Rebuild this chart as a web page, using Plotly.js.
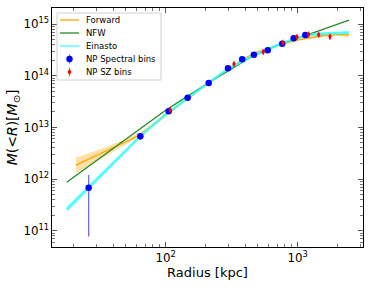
<!DOCTYPE html>
<html>
<head>
<meta charset="utf-8">
<script src="https://cdn.plot.ly/plotly-3.0.1.min.js"></script>
<style>html,body{margin:0;padding:0;background:#fff;}#chart{width:374px;height:288px;}</style>
</head>
<body>
<div id="chart"></div>
<script>
// Forward model (median + band)
const fwd_r = [20.9, 31.6, 53.7, 64.3, 100, 146.9, 211.8, 295, 461, 603, 760, 1000, 1500, 1995, 2450];
const fwd_m = [1.86e12, 3.02e12, 5.75e12, 7.24e12, 1.74e13, 3.63e13, 7.24e13, 1.35e14, 2.69e14, 3.39e14, 4.07e14, 4.90e14, 5.89e14, 6.31e14, 6.17e14];
const fwd_lo = [1.29e12, 2.40e12, 5.13e12, 6.61e12, 1.62e13, 3.47e13, 6.92e13, 1.29e14, 2.57e14, 3.24e14, 3.89e14, 4.68e14, 5.56e14, 5.89e14, 5.62e14];
const fwd_hi = [2.57e12, 3.72e12, 6.46e12, 7.94e12, 1.86e13, 3.80e13, 7.59e13, 1.41e14, 2.82e14, 3.55e14, 4.27e14, 5.13e14, 6.24e14, 6.76e14, 6.76e14];

// NFW
const nfw_r = [17.8, 44, 78.8, 100, 212, 316, 435, 760, 1170, 2450];
const nfw_m = [8.63e11, 4.71e12, 1.38e13, 2.14e13, 7.33e13, 1.36e14, 2.24e14, 4.24e14, 6.12e14, 1.19e15];

// Einasto (median + band)
const ein_r = [17.8, 26.1, 64.3, 100, 146.9, 211.8, 295, 461, 760, 1135, 1500, 2450];
const ein_m = [2.59e11, 6.79e11, 6.76e12, 1.78e13, 3.75e13, 7.33e13, 1.35e14, 2.45e14, 4.24e14, 5.96e14, 6.46e14, 6.76e14];
const ein_lo = [2.25e11, 6.05e11, 6.31e12, 1.68e13, 3.58e13, 7.0e13, 1.29e14, 2.34e14, 4.05e14, 5.62e14, 6.03e14, 6.17e14];
const ein_hi = [2.97e11, 7.62e11, 7.24e12, 1.88e13, 3.93e13, 7.67e13, 1.41e14, 2.57e14, 4.44e14, 6.31e14, 6.92e14, 7.41e14];

// NP Spectral bins
const spec_r = [26.1, 64.3, 105.4, 146.8, 211.8, 296.5, 380, 466, 593, 764, 933, 1143];
const spec_m = [6.8e11, 6.7e12, 2.05e13, 3.75e13, 7.2e13, 1.39e14, 2.08e14, 2.55e14, 3.1e14, 4.16e14, 5.28e14, 6.1e14];
const spec_ep = [5.2e11, 1.1e12, 1.5e12, 2.0e12, 3.0e12, 6.0e12, 9.0e12, 1.0e13, 1.2e13, 1.5e13, 2.0e13, 2.5e13];
const spec_em = [6.03e11, 1.0e12, 1.5e12, 2.0e12, 3.0e12, 6.0e12, 9.0e12, 1.0e13, 1.2e13, 1.5e13, 2.0e13, 2.5e13];

// NP SZ bins
const sz_r = [108.4, 329, 548, 774, 989, 1211, 1442, 1758];
const sz_m = [2.17e13, 1.68e14, 2.88e14, 4.32e14, 5.6e14, 6.3e14, 6.2e14, 5.7e14];
const sz_e = [2.0e12, 1.5e13, 2.0e13, 3.0e13, 4.0e13, 5.0e13, 5.0e13, 7.0e13];

// legend labels
const legend_labels = ['Forward', 'NFW', 'Einasto', 'NP Spectral bins', 'NP SZ bins'];

const C_FWD = '#FFA500', C_NFW = '#228B22', C_EIN = 'rgba(60,255,255,0.85)';

const traces = [
  {x: fwd_r, y: fwd_lo, mode: 'lines', line: {width: 0, color: 'rgba(255,165,0,0)'}, showlegend: false, hoverinfo: 'skip'},
  {x: fwd_r, y: fwd_hi, mode: 'lines', line: {width: 0, color: 'rgba(255,165,0,0)'}, fill: 'tonexty', fillcolor: 'rgba(255,165,0,0.35)', showlegend: false, hoverinfo: 'skip'},
  {x: ein_r, y: ein_lo, mode: 'lines', line: {width: 0, color: 'rgba(0,255,255,0)'}, showlegend: false, hoverinfo: 'skip'},
  {x: ein_r, y: ein_hi, mode: 'lines', line: {width: 0, color: 'rgba(0,255,255,0)'}, fill: 'tonexty', fillcolor: 'rgba(0,255,255,0.3)', showlegend: false, hoverinfo: 'skip'},
  {x: fwd_r, y: fwd_m, mode: 'lines', name: legend_labels[0], showlegend: false, line: {color: C_FWD, width: 1.2}},
  {x: nfw_r, y: nfw_m, mode: 'lines', name: legend_labels[1], showlegend: false, line: {color: C_NFW, width: 1.3}},
  {x: ein_r, y: ein_m, mode: 'lines', name: legend_labels[2], showlegend: false, line: {color: C_EIN, width: 2.5}},
  {x: spec_r, y: spec_m, mode: 'markers', name: legend_labels[3], showlegend: false,
   marker: {color: 'blue', size: 6.5, symbol: 'circle'},
   error_y: {type: 'data', symmetric: false, array: spec_ep, arrayminus: spec_em, color: 'rgba(60,60,255,0.75)', thickness: 1.3, width: 0}},
  {x: sz_r, y: sz_m, mode: 'markers', name: legend_labels[4], showlegend: false,
   marker: {color: 'red', size: 5, symbol: 'diamond-tall'},
   error_y: {type: 'data', array: sz_e, color: 'rgba(255,60,60,0.8)', thickness: 1.3, width: 0}}
];

// Manual legend (matplotlib-like), positioned in pixel terms converted to paper coords
const M = {l: 52, r: 11, t: 8, b: 41}, W = 374, H = 288;
const PW = W - M.l - M.r, PH = H - M.t - M.b;
const px = v => (v - M.l) / PW;
const py = v => (H - M.b - v) / PH;

const legRows = [20, 33, 46, 59, 72];
const shapes = [
  {type: 'rect', xref: 'paper', yref: 'paper', x0: px(57), x1: px(161), y0: py(80), y1: py(13),
   fillcolor: 'rgba(255,255,255,0.85)', line: {color: '#d0d0d0', width: 1}, layer: 'above'},
  {type: 'line', xref: 'paper', yref: 'paper', x0: px(60), x1: px(79), y0: py(legRows[0]), y1: py(legRows[0]), line: {color: C_FWD, width: 1.3}},
  {type: 'line', xref: 'paper', yref: 'paper', x0: px(60), x1: px(79), y0: py(legRows[1]), y1: py(legRows[1]), line: {color: C_NFW, width: 1.3}},
  {type: 'line', xref: 'paper', yref: 'paper', x0: px(60), x1: px(79), y0: py(legRows[2]), y1: py(legRows[2]), line: {color: 'rgba(120,255,255,0.9)', width: 2}},
  {type: 'line', xref: 'paper', yref: 'paper', x0: px(69.5), x1: px(69.5), y0: py(legRows[3] + 4.5), y1: py(legRows[3] - 4.5), line: {color: 'rgba(60,60,255,0.75)', width: 1.3}},
  {type: 'circle', xref: 'paper', yref: 'paper', x0: px(66.3), x1: px(72.7), y0: py(legRows[3] + 3.2), y1: py(legRows[3] - 3.2), fillcolor: 'blue', line: {color: 'blue', width: 0}},
  {type: 'line', xref: 'paper', yref: 'paper', x0: px(69.5), x1: px(69.5), y0: py(legRows[4] + 4.5), y1: py(legRows[4] - 4.5), line: {color: 'rgba(255,60,60,0.8)', width: 1.3}},
  {type: 'path', xref: 'paper', yref: 'paper',
   path: 'M ' + px(69.5) + ' ' + py(legRows[4] - 3) + ' L ' + px(71.5) + ' ' + py(legRows[4]) + ' L ' + px(69.5) + ' ' + py(legRows[4] + 3) + ' L ' + px(67.5) + ' ' + py(legRows[4]) + ' Z',
   fillcolor: 'red', line: {color: 'red', width: 0}}
];
const annotations = legend_labels.map((t, i) => ({
  xref: 'paper', yref: 'paper', x: px(84), y: py(legRows[i]), xanchor: 'left', yanchor: 'middle',
  text: t, showarrow: false, font: {family: 'DejaVu Sans', size: 8.5, color: '#000'}
}));

const axisCommon = {
  type: 'log', showgrid: false, zeroline: false,
  showline: true, linecolor: '#000', linewidth: 1, mirror: 'allticks',
  ticks: 'inside', ticklen: 5, tickcolor: '#555', tickwidth: 1,
  exponentformat: 'power', dtick: 1,
  tickfont: {family: 'DejaVu Sans', size: 9.5, color: '#000'},
  minor: {ticks: 'inside', ticklen: 3, tickcolor: '#777', dtick: 'D1'}
};

const layout = {
  width: W, height: H,
  margin: M,
  paper_bgcolor: '#fff', plot_bgcolor: '#fff',
  font: {family: 'DejaVu Sans', color: '#000'},
  xaxis: Object.assign({}, axisCommon, {
    range: [1.139, 3.495],
    title: {text: 'Radius [kpc]', font: {family: 'DejaVu Sans', size: 13}, standoff: 4}
  }),
  yaxis: Object.assign({}, axisCommon, {
    range: [10.684, 15.31],
    title: {text: '<i>M</i>(&lt;<i>R</i>)[<i>M</i><sub>⊙</sub>]', font: {family: 'DejaVu Sans', size: 14}, standoff: 2}
  }),
  shapes: shapes,
  annotations: annotations,
  showlegend: false
};

Plotly.newPlot('chart', traces, layout, {staticPlot: true, displayModeBar: false});
</script>
</body>
</html>
